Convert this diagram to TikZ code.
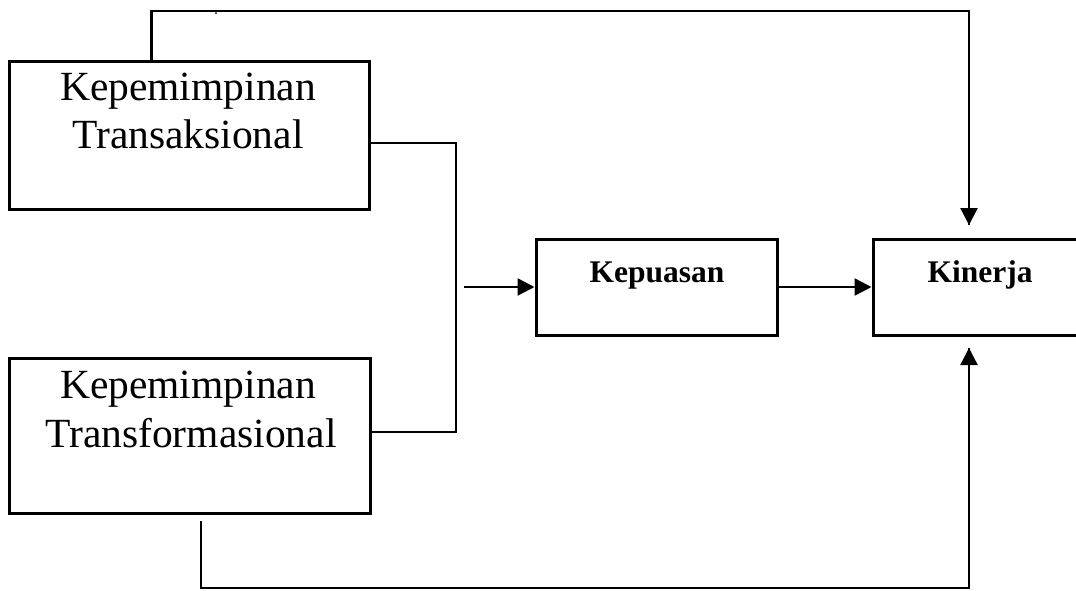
\documentclass[tikz,border=0pt]{standalone}
\usepackage{fontspec}
\setmainfont{Liberation Serif}
\usetikzlibrary{arrows.meta,calc}
\begin{document}
\begin{tikzpicture}[x=1pt,y=-1pt,
  box/.style={draw,line width=3pt,inner sep=0pt,minimum width=#1},
  bigtxt/.style={anchor=base,inner sep=0pt,font=\fontsize{41.5}{48}\selectfont},
  boldtxt/.style={anchor=base,inner sep=0pt,font=\fontsize{31.5}{36}\selectfont\bfseries},
  conn/.style={line width=2.4pt},
  thin/.style={line width=1.8pt},
  arr/.style={line width=2.4pt,-{Triangle[length=17pt,width=17pt]}}]
\useasboundingbox (0,0) rectangle (1076,590);
% boxes
\node[box=360pt,minimum height=148pt] (b1) at (189,135) {};
\node[box=361pt,minimum height=155pt] (b2) at (189.5,435.5) {};
\node[box=241pt,minimum height=96pt] (kp) at (656.5,287) {};
\node[box=214pt,minimum height=96pt] (kn) at (980,287) {};
% texts
\node[bigtxt] (t1a) at (188,100) {Kepemimpinan};
\node[bigtxt] (t1b) at (188,148) {Transaksional};
\node[bigtxt] (t2a) at (188,398) {Kepemimpinan};
\node[bigtxt] (t2b) at (191,447) {Transformasional};
\node[boldtxt] (tkp) at (657,282) {Kepuasan};
\node[boldtxt] (tkn) at (980,282) {Kinerja};
% named coordinates
\coordinate (topstart) at ($(b1.north west)+(144,0)$);
\coordinate (topend) at (969,225);
\coordinate (botstart) at (201,521);
\coordinate (botend) at (969,348);
\coordinate (br1) at (b1.east |- 0,143);
\coordinate (br2) at (b2.east |- 0,432);
\coordinate (mid) at (464,287);
% connectors
\draw[conn] (topstart) |- (969,11) -- (topend);
\draw[arr] (topend |- 0,200) -- (topend);
\draw[thin] (br1) -- (456,143) -- (456,432) -- (br2);
\draw[arr] (mid) -- (kp.west);
\draw[arr] (kp.east) -- (kn.west);
\draw[conn] (botstart) |- (969,588) -- (botend);
\draw[arr] (botend |- 0,370) -- (botend);
\fill (216,13) circle (1pt);
\end{tikzpicture}
\end{document}
